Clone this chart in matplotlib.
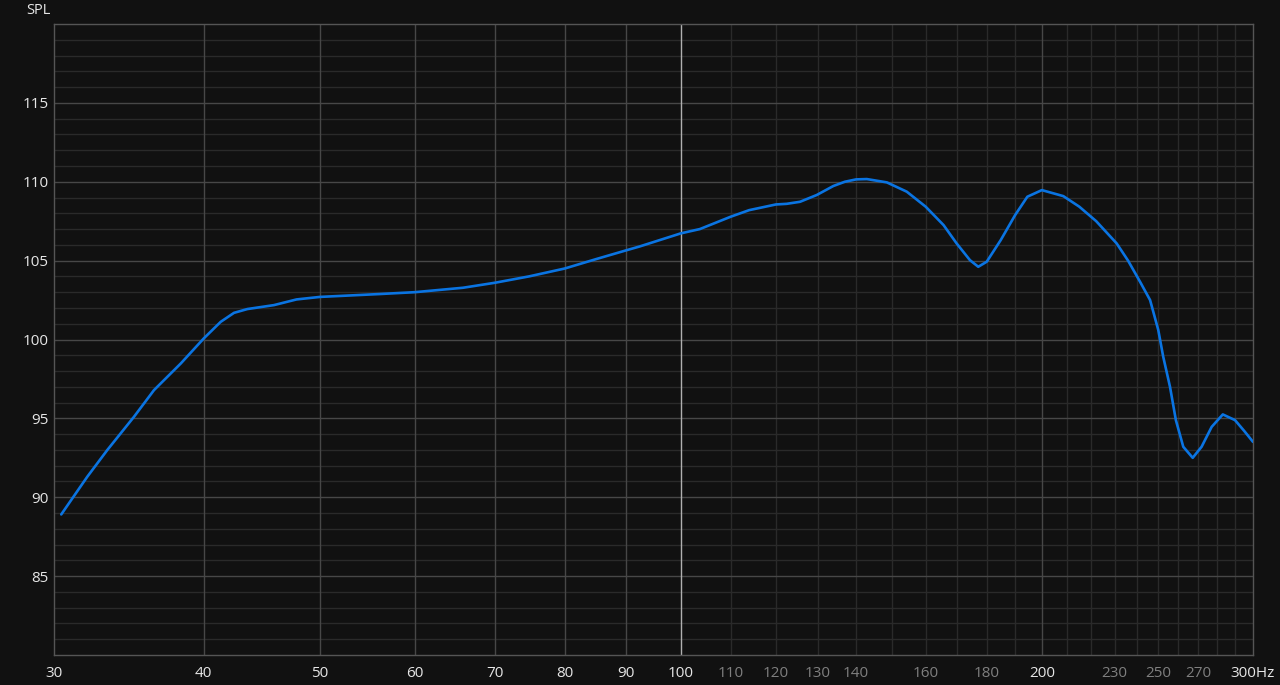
import matplotlib.pyplot as plt
from matplotlib.ticker import NullFormatter

# response curve
freq = [30.42, 31.98, 33.23, 34.98, 36.35, 38.27, 40.0, 41.32, 42.39, 43.49,
        45.77, 47.8, 50, 56, 60, 65.8, 70, 74.7, 80, 85, 90, 92.4, 100, 103.7,
        110, 114, 120, 122.5, 125.7, 129.8, 134, 137, 140, 142.9, 148.5, 154.3,
        160, 165.6, 169.8, 174.2, 177, 179.9, 184.8, 190, 194.5, 200, 208.4,
        214.9, 222, 230.9, 236, 241.5, 246.2, 250.1, 252.5, 255.8, 258.7,
        262.4, 267.2, 271.8, 277.1, 283.1, 289.8, 295, 300]
spl = [88.91, 91.3, 92.99, 95.1, 96.79, 98.48, 100.07, 101.12, 101.69, 101.93,
       102.18, 102.54, 102.7, 102.88, 103.0, 103.28, 103.6, 104.0, 104.5, 105.1,
       105.65, 105.9, 106.73, 107.0, 107.78, 108.2, 108.56, 108.6, 108.73,
       109.16, 109.73, 110.0, 110.15, 110.17, 109.96, 109.37, 108.42, 107.25,
       106.09, 105.03, 104.61, 104.93, 106.3, 107.89, 109.05, 109.47, 109.09,
       108.42, 107.5, 106.09, 105.0, 103.66, 102.5, 100.6, 98.9, 97.0, 94.89,
       93.2, 92.5, 93.2, 94.46, 95.25, 94.89, 94.2, 93.51]

major_x = [30, 40, 50, 60, 70, 80, 90, 100, 200, 300]
major_x_labels = ["30", "40", "50", "60", "70", "80", "90", "100", "200", "300Hz"]
minor_x = [110, 120, 130, 140, 160, 180, 230, 250, 270]
fine_x = [110, 120, 130, 140, 150, 160, 170, 180, 190, 210, 220, 230, 240,
          250, 260, 270, 280, 290]
y_major = [85, 90, 95, 100, 105, 110, 115]
y_minor = [y for y in range(81, 120) if y % 5 != 0]

bg = "#111111"
fig = plt.figure(figsize=(12.8, 6.85), dpi=100, facecolor=bg)
ax = fig.add_axes([54 / 1280, 1 - 655 / 685, 1199 / 1280, 631 / 685])
ax.set_facecolor(bg)
ax.set_xscale("log")
ax.set_xlim(30, 300)
ax.set_ylim(80, 120)

# grid
for y in y_minor:
    ax.axhline(y, color="#2a2a2a", lw=1, zorder=1)
for x in fine_x:
    ax.axvline(x, color="#2a2a2a", lw=1, zorder=1)
for y in y_major:
    ax.axhline(y, color="#474747", lw=1, zorder=2)
for x in [40, 50, 60, 70, 80, 90, 200]:
    ax.axvline(x, color="#474747", lw=1, zorder=2)
ax.axvline(100, color="#b0b0b0", lw=1, zorder=2)

ax.plot(freq, spl, color="#0a74e2", lw=1.9, zorder=5,
        solid_joinstyle="round", solid_capstyle="round")

for s in ax.spines.values():
    s.set_color("#555555")
    s.set_linewidth(1)

plt.rcParams["font.family"] = ["Open Sans", "DejaVu Sans"]
ax.set_xticks(major_x)
ax.set_xticklabels(major_x_labels, fontsize=11, color="#e6e6e6", family="Open Sans")
ax.set_xticks(minor_x, minor=True)
ax.set_xticklabels([str(v) for v in minor_x], minor=True, fontsize=11,
                   color="#7f7f7f", family="Open Sans")
ax.set_yticks(y_major)
ax.set_yticklabels([str(v) for v in y_major], fontsize=11, color="#e6e6e6",
                   family="Open Sans")
ax.yaxis.set_minor_formatter(NullFormatter())
ax.tick_params(axis="both", which="both", length=0)
ax.tick_params(axis="x", which="both", pad=8)
ax.tick_params(axis="y", pad=4)

fig.text(38 / 1280, 1 - 10 / 685, "SPL", color="#e6e6e6", fontsize=10.5,
         ha="center", va="center", family="Open Sans")

fig.savefig("out.png", dpi=100, facecolor=bg)
